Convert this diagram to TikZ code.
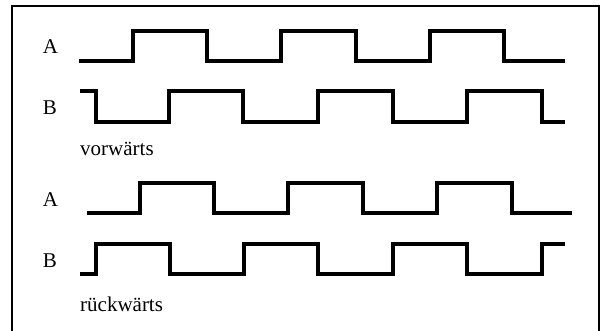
\documentclass[tikz,border=0pt]{standalone}
\usepackage{fontspec}
\setmainfont{Liberation Serif}
\begin{document}
\begin{tikzpicture}[x=1pt,y=-1pt,
  signal/.style={line width=4.2pt,line join=miter},
  frame/.style={line width=2.3pt,line join=miter},
  lbl/.style={inner sep=0pt,font=\fontsize{21}{25}\selectfont}]
\useasboundingbox (0,0) rectangle (602,331);
\draw[frame] (12,340) -- (12,6) -- (599,6) -- (599,340);
% labels
\node[lbl,anchor=base] (la1) at (50.5,54) {A};
\node[lbl,anchor=base] (lb1) at (50,115) {B};
\node[lbl,anchor=base west] (lv) at (80,155.5) {vorwärts};
\node[lbl,anchor=base] (la2) at (50.5,207) {A};
\node[lbl,anchor=base] (lb2) at (50,267) {B};
\node[lbl,anchor=base west] (lr) at (80,311) {rückwärts};
% vorwaerts
\draw[signal] (79,61) -- (133,61) -- (133,31) -- (207,31) -- (207,61) -- (281,61) -- (281,31) -- (356,31) -- (356,61) -- (430,61) -- (430,31) -- (504,31) -- (504,61) -- (565,61);
\draw[signal] (80,91) -- (96,91) -- (96,122) -- (169,122) -- (169,91) -- (243,91) -- (243,122) -- (318,122) -- (318,91) -- (393,91) -- (393,122) -- (467,122) -- (467,91) -- (542,91) -- (542,122) -- (565,122);
% rueckwaerts
\draw[signal] (87,213) -- (140,213) -- (140,183) -- (214,183) -- (214,213) -- (288,213) -- (288,183) -- (363,183) -- (363,213) -- (437,213) -- (437,183) -- (512,183) -- (512,213) -- (572,213);
\draw[signal] (80,274) -- (96,274) -- (96,244) -- (170,244) -- (170,274) -- (244,274) -- (244,244) -- (318,244) -- (318,274) -- (393,274) -- (393,244) -- (467,244) -- (467,274) -- (542,274) -- (542,244) -- (565,244);
\end{tikzpicture}
\end{document}
